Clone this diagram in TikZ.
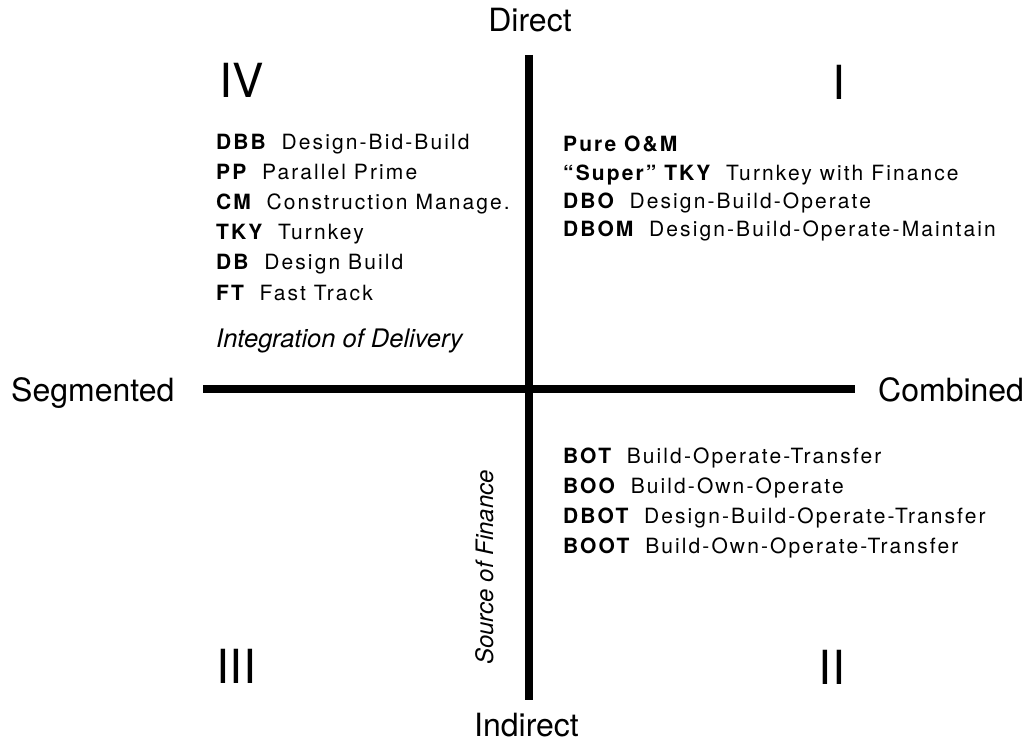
\documentclass[tikz,border=0pt]{standalone}
\usepackage{fontspec}
\setmainfont{TeX Gyre Heros}
\newfontfamily\trackfont[LetterSpace=10]{TeX Gyre Heros}
\newcommand{\abx}[2]{{\bfseries #1}\hspace{0.75em}#2}
\begin{document}
\begin{tikzpicture}[x=1bp,y=-1bp,
  axislabel/.style={font=\fontsize{32bp}{38bp}\selectfont, inner sep=0},
  numeral/.style={font=\fontsize{47bp}{56bp}\selectfont, inner sep=0, anchor=base},
  itemtxt/.style={font=\trackfont\fontsize{21bp}{25bp}\selectfont, inner sep=0, anchor=base west},
  axisline/.style={line width=8bp}]
\useasboundingbox (0,0) rectangle (1031,742);
% axes
\coordinate (top) at (529,55);
\coordinate (bottom) at (529,700);
\coordinate (left) at (203,389);
\coordinate (right) at (855,389);
\draw[axisline] (top) -- (bottom);
\draw[axisline] (left) -- (right);
% axis labels
\node[axislabel, anchor=base] (direct) at (530,32) {Direct};
\node[axislabel, anchor=base] (indirect) at (526.5,736) {Indirect};
\node[axislabel, anchor=base west] (segmented) at (11,401) {Segmented};
\node[axislabel, anchor=base west] (combined) at (878,401) {Combined};
% numerals
\node[numeral] (qIV) at (242,98) {IV};
\node[numeral] (qI) at (839.5,100) {I};
\node[numeral] (qII) at (832,684) {II};
\node[numeral] (qIII) at (236.5,683) {III};
% quadrant IV
\node[itemtxt] (dbb) at (216,149) {\abx{DBB}{Design-Bid-Build}};
\node[itemtxt] (pp) at (216,179.2) {\abx{PP}{Parallel Prime}};
\node[itemtxt] (cm) at (216,209.4) {\abx{CM}{Construction Manage.}};
\node[itemtxt] (tky) at (216,239.6) {\abx{TKY}{Turnkey}};
\node[itemtxt] (db) at (216,269.8) {\abx{DB}{Design Build}};
\node[itemtxt] (ft) at (216,300) {\abx{FT}{Fast Track}};
\node[font=\itshape\fontsize{25.5bp}{30bp}\selectfont, inner sep=0, anchor=base west] (integ) at (216,347) {Integration of Delivery};
% quadrant I
\node[itemtxt] (om) at (563,151.7) {\bfseries Pure O\&M};
\node[itemtxt] (super) at (563,180) {\abx{“Super” TKY}{Turnkey with Finance}};
\node[itemtxt] (dbo) at (563,208.3) {\abx{DBO}{Design-Build-Operate}};
\node[itemtxt] (dbom) at (563,236.7) {\abx{DBOM}{Design-Build-Operate-Maintain}};
% quadrant II
\node[itemtxt] (bot) at (563,463) {\abx{BOT}{Build-Operate-Transfer}};
\node[itemtxt] (boo) at (563,493) {\abx{BOO}{Build-Own-Operate}};
\node[itemtxt] (dbot) at (563,523) {\abx{DBOT}{Design-Build-Operate-Transfer}};
\node[itemtxt] (boot) at (563,553) {\abx{BOOT}{Build-Own-Operate-Transfer}};
% source of finance
\node[font=\itshape\fontsize{24bp}{29bp}\selectfont, inner sep=0, anchor=base west, rotate=90] (source) at (493,665) {Source of Finance};
\end{tikzpicture}
\end{document}
